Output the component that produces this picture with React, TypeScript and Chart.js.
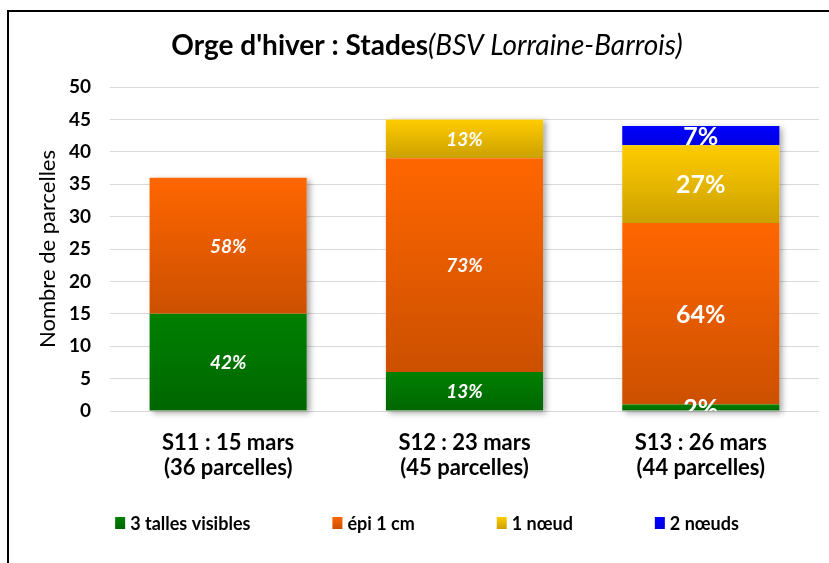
import React, { useEffect, useRef } from "react";
import { Chart, registerables } from "chart.js";

Chart.register(...registerables);

// ---- data ----
const categories: string[][] = [
  ["S11 : 15 mars", "(36 parcelles)"],
  ["S12 : 23 mars", "(45 parcelles)"],
  ["S13 : 26 mars", "(44 parcelles)"],
];
const seriesNames = ["3 talles visibles", "épi 1 cm", "1 nœud", "2 nœuds"];
const talles = [15, 6, 1];
const epi = [21, 33, 28];
const noeud1 = [0, 6, 12];
const noeud2 = [0, 0, 3];
const yMin = 0;
const yMax = 50;
const yStep = 5;
const titleBold = "Orge d'hiver : Stades";
const titleItalic = "(BSV Lorraine-Barrois)";
const yAxisTitle = "Nombre de parcelles";

// ---- styles ----
const colorsTop = ["#008000", "#FF6600", "#FFCC00", "#0000FF"];
const colorsBottom = ["#006600", "#CC5000", "#CCA000", "#0000E0"];
const FONT = "Lato, 'Open Sans', sans-serif";
const labelFonts = [
  `italic bold 19px ${FONT}`,
  `italic bold 19px ${FONT}`,
  `bold 25px ${FONT}`,
];

const series = [talles, epi, noeud1, noeud2];
const totals = categories.map((_, i) => series.reduce((s, arr) => s + arr[i], 0));

const gradientFill = (d: number) => (ctx: any) => {
  const chart = ctx.chart;
  const y = chart.scales && chart.scales.y;
  if (!y || ctx.type !== "data") return colorsTop[d];
  const i = ctx.dataIndex;
  let base = 0;
  for (let k = 0; k < d; k++) base += series[k][i];
  const v = series[d][i];
  const yTop = y.getPixelForValue(base + v);
  const yBot = y.getPixelForValue(base);
  if (!isFinite(yTop) || !isFinite(yBot) || yTop === yBot) return colorsTop[d];
  const g = chart.ctx.createLinearGradient(0, yTop, 0, yBot);
  g.addColorStop(0, colorsTop[d]);
  g.addColorStop(1, colorsBottom[d]);
  return g;
};

const shadowPlugin = {
  id: "barShadow",
  beforeDatasetsDraw(chart: any) {
    const ctx = chart.ctx;
    const meta = chart.getDatasetMeta(0);
    const y = chart.scales.y;
    ctx.save();
    ctx.shadowColor = "rgba(0,0,0,0.35)";
    ctx.shadowBlur = 6;
    ctx.shadowOffsetX = 3;
    ctx.shadowOffsetY = 2;
    ctx.fillStyle = "#ffffff";
    meta.data.forEach((el: any, i: number) => {
      const { x, width } = el.getProps(["x", "width"], true);
      const top = y.getPixelForValue(totals[i]);
      const bottom = y.getPixelForValue(0);
      ctx.fillRect(x - width / 2, top, width, bottom - top);
    });
    ctx.restore();
  },
};

const labelPlugin = {
  id: "pctLabels",
  afterDatasetsDraw(chart: any) {
    const ctx = chart.ctx;
    const a = chart.chartArea;
    ctx.save();
    ctx.beginPath();
    ctx.rect(a.left, a.top, a.right - a.left, a.bottom - a.top);
    ctx.clip();
    ctx.fillStyle = "#ffffff";
    ctx.textAlign = "center";
    ctx.textBaseline = "middle";
    chart.data.datasets.forEach((ds: any, d: number) => {
      const meta = chart.getDatasetMeta(d);
      meta.data.forEach((el: any, i: number) => {
        const v = ds.data[i];
        if (!v) return;
        const pct = Math.round((v / totals[i]) * 100) + "%";
        const { x, y, base } = el.getProps(["x", "y", "base"], true);
        ctx.font = labelFonts[i];
        ctx.fillText(pct, x, (y + base) / 2 + 1);
      });
    });
    ctx.restore();
  },
};

const titlePlugin = {
  id: "mixedTitle",
  afterDraw(chart: any) {
    const ctx = chart.ctx;
    const fb = `bold 28px ${FONT}`;
    const fi = `italic 28px ${FONT}`;
    ctx.save();
    ctx.font = fb;
    const w1 = ctx.measureText(titleBold).width;
    ctx.font = fi;
    const w2 = ctx.measureText(titleItalic).width;
    const x0 = chart.width / 2 - (w1 + w2) / 2;
    const yc = 34;
    ctx.textBaseline = "middle";
    ctx.textAlign = "left";
    ctx.fillStyle = "#000000";
    ctx.font = fb;
    ctx.fillText(titleBold, x0, yc);
    ctx.font = fi;
    ctx.fillText(titleItalic, x0 + w1, yc);
    ctx.restore();
  },
};

const legendPlugin = {
  id: "customLegend",
  afterDraw(chart: any) {
    const ctx = chart.ctx;
    const font = `bold 18px ${FONT}`;
    const boxW = 10;
    const boxH = 12;
    const boxGap = 5;
    const itemGap = 82;
    const yc = 511;
    ctx.save();
    ctx.font = font;
    const widths = seriesNames.map((n) => boxW + boxGap + ctx.measureText(n).width);
    const total = widths.reduce((s, w) => s + w, 0) + itemGap * (seriesNames.length - 1);
    let x = chart.width / 2 - total / 2;
    ctx.textBaseline = "middle";
    ctx.textAlign = "left";
    seriesNames.forEach((n, d) => {
      const g = ctx.createLinearGradient(0, yc - boxH / 2, 0, yc + boxH / 2);
      g.addColorStop(0, colorsTop[d]);
      g.addColorStop(1, colorsBottom[d]);
      ctx.fillStyle = g;
      ctx.fillRect(x, yc - boxH / 2, boxW, boxH);
      ctx.fillStyle = "#000000";
      ctx.fillText(n, x + boxW + boxGap, yc + 1);
      x += widths[d] + itemGap;
    });
    ctx.restore();
  },
};

export default function App() {
  const ref = useRef<HTMLCanvasElement>(null);

  useEffect(() => {
    if (!ref.current) return;
    const chart = new Chart(ref.current, {
      type: "bar",
      data: {
        labels: categories,
        datasets: series.map((arr, d) => ({
          label: seriesNames[d],
          data: arr,
          backgroundColor: gradientFill(d),
          borderWidth: 0,
          categoryPercentage: 1,
          barPercentage: 0.665,
        })),
      },
      options: {
        responsive: false,
        animation: false,
        layout: { padding: { left: 26, right: 26, top: 75, bottom: 84 } },
        plugins: {
          legend: { display: false },
          title: { display: false },
          tooltip: { enabled: false },
        },
        scales: {
          x: {
            stacked: true,
            grid: { display: false, drawTicks: false },
            border: { display: false },
            afterFit: (s: any) => {
              s.height = 68;
            },
            ticks: {
              color: "#000000",
              padding: 19,
              font: { family: FONT, size: 22, weight: "bold", lineHeight: 1.14 },
            },
          },
          y: {
            stacked: true,
            min: yMin,
            max: yMax,
            afterFit: (s: any) => {
              s.width = 75;
            },
            ticks: {
              stepSize: yStep,
              color: "#000000",
              padding: 19,
              font: { family: FONT, size: 19, weight: "bold" },
            },
            grid: { color: "#D9D9D9", lineWidth: 1, drawTicks: false },
            border: { display: false },
            title: {
              display: true,
              text: yAxisTitle,
              color: "#000000",
              padding: { top: 0, bottom: 0 },
              font: { family: FONT, size: 22, weight: "normal", lineHeight: 1.2 },
            },
          },
        },
      },
      plugins: [shadowPlugin, labelPlugin, titlePlugin, legendPlugin],
    });
    return () => chart.destroy();
  }, []);

  return (
    <div
      style={{
        position: "fixed",
        left: 0,
        top: 0,
        width: 829,
        height: 563,
        overflow: "hidden",
        background: "#ffffff",
      }}
    >
      <div
        style={{
          position: "absolute",
          left: 7,
          top: 10,
          width: 840,
          height: 560,
          borderLeft: "2px solid #000",
          borderTop: "2px solid #000",
        }}
      >
        <canvas ref={ref} width={836} height={551} style={{ display: "block" }} />
      </div>
    </div>
  );
}
